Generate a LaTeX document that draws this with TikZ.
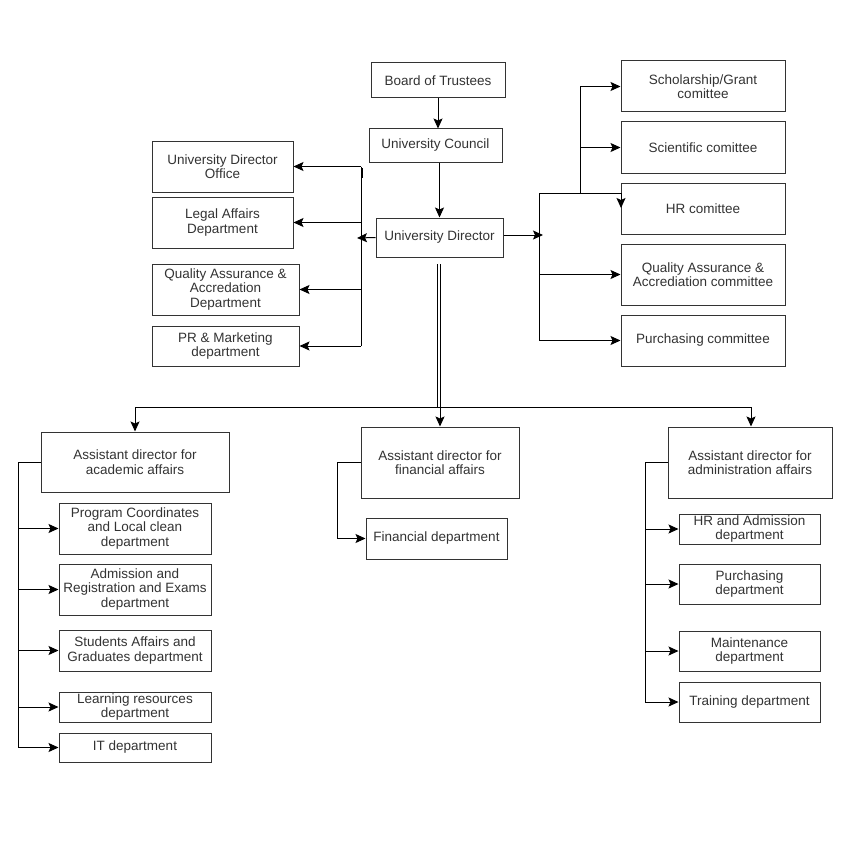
\documentclass[tikz,border=0pt]{standalone}
\usepackage{fontspec}
\setmainfont{Liberation Sans}
\usetikzlibrary{arrows.meta}
\definecolor{txt}{HTML}{333333}
\begin{document}
\begin{tikzpicture}[x=1pt,y=-1pt,
  box/.style={draw=txt,line width=1pt,inner sep=0pt,align=center,text=txt,font=\fontsize{13.5}{14.5}\selectfont},
  ln/.style={draw=black,line width=1pt},
  arr/.style={ln,-{Stealth[length=10pt,width=9pt,inset=2pt]}}]
\fill[white] (0,0) rectangle (847,864);
\useasboundingbox (0,0) rectangle (847,864);
% top chain
\node[box,minimum width=134pt,minimum height=35pt] (bot) at (438,80.5) {Board of Trustees};
\node[box,minimum width=133pt,minimum height=33pt] (uc) at (435.5,145.5) {University Council};
\node[box,minimum width=127pt,minimum height=39pt] (ud) at (439.5,237.5) {University Director};
% left offices
\node[box,minimum width=141pt,minimum height=51pt] (udo) at (222.5,166.5) {University Director\\Office};
\node[box,minimum width=141pt,minimum height=51pt] (legal) at (222.5,222.5) {Legal Affairs\\Department};
\node[box,minimum width=147pt,minimum height=51pt] (qa) at (225.5,289.5) {Quality Assurance \&\\Accredation\\Department};
\node[box,minimum width=147pt,minimum height=40pt] (pr) at (225.5,346) {PR \& Marketing\\department};
% right committees
\node[box,minimum width=164pt,minimum height=51pt] (sch) at (703,86.5) {Scholarship/Grant\\comittee};
\node[box,minimum width=164pt,minimum height=51pt] (sci) at (703,147.5) {Scientific comittee};
\node[box,minimum width=164pt,minimum height=51pt] (hr) at (703,208.5) {HR comittee};
\node[box,minimum width=164pt,minimum height=61pt] (qac) at (703,274.5) {Quality Assurance \&\\Accrediation committee};
\node[box,minimum width=164pt,minimum height=51pt] (pur) at (703,340.5) {Purchasing committee};
% assistant directors
\node[box,minimum width=188pt,minimum height=60pt] (ada) at (135,462) {Assistant director for\\academic affairs};
\node[box,minimum width=158pt,minimum height=71pt] (adf) at (440,462.5) {Assistant director for\\financial affairs};
\node[box,minimum width=164pt,minimum height=71pt] (adm) at (750,462.5) {Assistant director for\\administration affairs};
% academic departments
\node[box,minimum width=152pt,minimum height=51pt] (prog) at (135,528.5) {Program Coordinates\\and Local clean\\department};
\node[box,minimum width=152pt,minimum height=51pt] (adreg) at (135,589.5) {Admission and\\Registration and Exams\\department};
\node[box,minimum width=152pt,minimum height=41pt] (stu) at (135,650.5) {Students Affairs and\\Graduates department};
\node[box,minimum width=152pt,minimum height=30pt] (lea) at (135,707) {Learning resources\\department};
\node[box,minimum width=152pt,minimum height=29pt] (it) at (135,747.5) {IT department};
% financial
\node[box,minimum width=141pt,minimum height=41pt] (fin) at (436.5,538.5) {Financial department};
% administration departments
\node[box,minimum width=141pt,minimum height=30pt] (hra) at (749.5,529) {HR and Admission\\department};
\node[box,minimum width=141pt,minimum height=40pt] (purd) at (749.5,584) {Purchasing\\department};
\node[box,minimum width=141pt,minimum height=40pt] (mnt) at (749.5,651) {Maintenance\\department};
\node[box,minimum width=141pt,minimum height=40pt] (trn) at (749.5,702) {Training department};
% coordinates
\coordinate (lb) at (361,0);
\coordinate (udl) at (357,238);
\coordinate (rb) at (539,0);
\coordinate (udr) at (543,235);
\coordinate (rs) at (580,0);
\coordinate (hrtop) at (621,193);
\coordinate (trAT) at (437.8,264);
\coordinate (trAB) at (437.8,407);
\coordinate (trBT) at (440.6,264);
\coordinate (trBB) at (440.6,407);
\coordinate (hl) at (135,407);
\coordinate (hm) at (440,407);
\coordinate (hr2) at (751,407);
\coordinate (la) at (18,0);
\coordinate (lf) at (337,0);
\coordinate (lm) at (645,0);
% top chain connectors
\draw[arr] (bot.south) -- (bot.south |- uc.north);
\draw[arr] (ud.north |- uc.south) -- (ud.north);
% left bus
\draw[ln] (lb |- udo.east) -- (lb |- pr.east);
\draw[line width=1.6pt] (362,168) -- (362,178);
\draw[arr] (lb |- udo.east) -- (udo.east);
\draw[arr] (lb |- legal.east) -- (legal.east);
\draw[arr] (lb |- qa.east) -- (qa.east);
\draw[arr] (lb |- pr.east) -- (pr.east);
\draw[arr] (ud.west) -- (udl);
% right bus
\draw[arr] (ud.east |- udr) -- (udr);
\draw[ln] (rb |- hrtop) -- (rb |- pur.west);
\draw[arr] (rb |- hrtop) -- (hrtop) -- ++(0,15);
\draw[ln] (rs |- hrtop) -- (rs |- sch.west);
\draw[arr] (rs |- sch.west) -- (sch.west);
\draw[arr] (rs |- sci.west) -- (sci.west);
\draw[arr] (rb |- qac.west) -- (qac.west);
\draw[arr] (rb |- pur.west) -- (pur.west);
% trunk (double line)
\draw[ln] (trAT) -- (trAB);
\draw[ln] (trBT) -- (trBB);
\draw[ln] (hl) -- (hr2);
\draw[arr] (hl) -- (ada.north);
\draw[arr] (hm) -- (hm |- adf.north);
\draw[arr] (hr2) -- (hr2 |- adm.north);
% academic
\draw[ln] (ada.west) -- (la |- ada.west) -- (la |- it.west);
\draw[arr] (la |- prog.west) -- (prog.west);
\draw[arr] (la |- adreg.west) -- (adreg.west);
\draw[arr] (la |- stu.west) -- (stu.west);
\draw[arr] (la |- lea.west) -- (lea.west);
\draw[arr] (la |- it.west) -- (it.west);
% financial
\draw[arr] (adf.west) -- (lf |- adf.west) -- (lf |- fin.west) -- (fin.west);
% administration
\draw[ln] (adm.west) -- (lm |- adm.west) -- (lm |- trn.west);
\draw[arr] (lm |- hra.west) -- (hra.west);
\draw[arr] (lm |- purd.west) -- (purd.west);
\draw[arr] (lm |- mnt.west) -- (mnt.west);
\draw[arr] (lm |- trn.west) -- (trn.west);
\end{tikzpicture}
\end{document}
